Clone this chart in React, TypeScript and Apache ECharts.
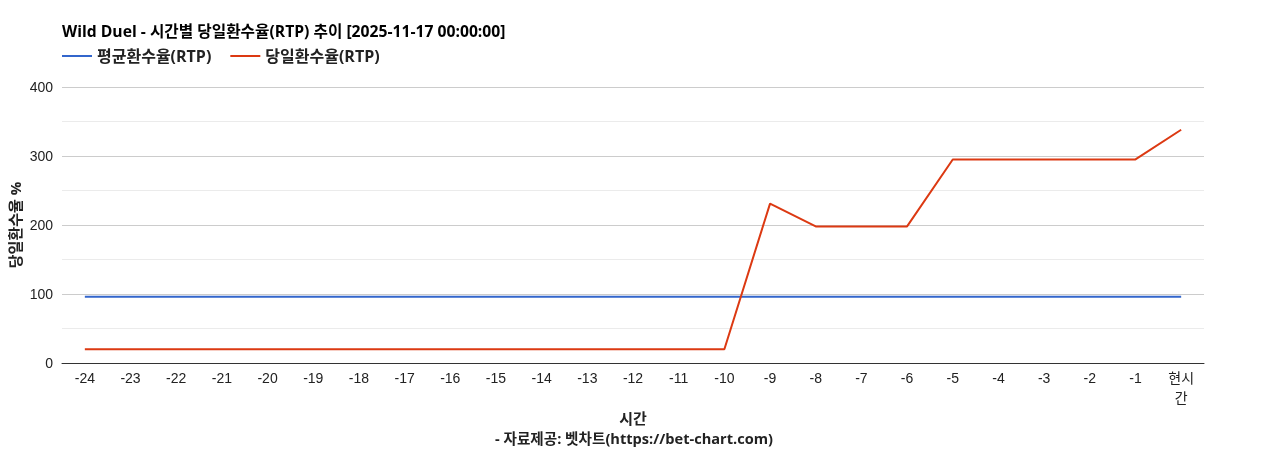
import React, {useRef, useEffect} from 'react';
import * as echarts from 'echarts';

const hours = [
    '-24', '-23', '-22', '-21', '-20', '-19', '-18', '-17', '-16', '-15', '-14', '-13',
    '-12', '-11', '-10', '-9', '-8', '-7', '-6', '-5', '-4', '-3', '-2', '-1', '현시간'
];
const avgRtp = [
    96, 96, 96, 96, 96, 96, 96, 96, 96, 96, 96, 96,
    96, 96, 96, 96, 96, 96, 96, 96, 96, 96, 96, 96, 96
];
const dailyRtp = [
    20, 20, 20, 20, 20, 20, 20, 20, 20, 20, 20, 20,
    20, 20, 20, 231, 198, 198, 198, 295, 295, 295, 295, 295, 338
];
const yTicks = {min: 0, max: 400, interval: 100};

const FONT = 'Arial, "Liberation Sans", "Noto Sans CJK KR", sans-serif';
const BOLD_FONT = '"Open Sans", "Noto Sans CJK KR", sans-serif';

const App = () => {
    const ref = useRef<HTMLDivElement>(null);

    useEffect(() => {
        const chart = echarts.init(ref.current as HTMLDivElement, null, {renderer: 'svg'});
        chart.setOption({
            animation: false,
            textStyle: {fontFamily: FONT},
            title: {
                text: 'Wild Duel - 시간별 당일환수율(RTP) 추이 [2025-11-17 00:00:00]',
                left: 57,
                top: 18,
                textStyle: {fontSize: 15.7, fontWeight: 'bold', color: '#000', fontFamily: BOLD_FONT}
            },
            legend: {
                left: 57,
                top: 43,
                icon: 'rect',
                itemWidth: 30,
                itemHeight: 2,
                itemGap: 19,
                textStyle: {fontSize: 16, fontWeight: 'bold', color: '#222', fontFamily: BOLD_FONT},
                data: ['평균환수율(RTP)', '당일환수율(RTP)']
            },
            grid: {left: 62, right: 64, top: 87, bottom: 87, outerBoundsMode: 'none', containLabel: false},
            xAxis: {
                type: 'category',
                data: hours,
                boundaryGap: true,
                name: '시간',
                nameLocation: 'middle',
                nameGap: 47,
                nameMoveOverlap: false,
                nameTextStyle: {fontSize: 15, fontWeight: 'bold', color: '#222', fontFamily: BOLD_FONT},
                axisLine: {lineStyle: {color: '#333'}},
                axisTick: {show: false},
                axisLabel: {
                    fontSize: 14,
                    color: '#222',
                    margin: 5,
                    interval: 0,
                    lineHeight: 20,
                    formatter: (v: string) => (v === '현시간' ? '현시\n간' : v)
                },
                splitLine: {show: false}
            },
            yAxis: {
                type: 'value',
                ...yTicks,
                name: '당일환수율 %',
                nameLocation: 'middle',
                nameGap: 40,
                nameRotate: 90,
                nameMoveOverlap: false,
                nameTextStyle: {fontSize: 15, fontWeight: 'bold', color: '#222', fontFamily: BOLD_FONT},
                axisLine: {show: false},
                axisTick: {show: false},
                axisLabel: {fontSize: 14, color: '#222', margin: 9},
                splitLine: {lineStyle: {color: '#cccccc'}},
                minorTick: {show: false, splitNumber: 2},
                minorSplitLine: {show: true, lineStyle: {color: '#ebebeb'}}
            },
            graphic: [
                {
                    type: 'text',
                    left: 'center',
                    top: 431,
                    style: {
                        text: '- 자료제공: 벳차트(https://bet-chart.com)',
                        fontSize: 14.6,
                        fontWeight: 'bold',
                        fill: '#222',
                        fontFamily: BOLD_FONT
                    }
                }
            ],
            series: [
                {
                    name: '평균환수율(RTP)',
                    type: 'line',
                    data: avgRtp,
                    symbol: 'none',
                    lineStyle: {width: 2, color: '#3366cc'},
                    itemStyle: {color: '#3366cc'}
                },
                {
                    name: '당일환수율(RTP)',
                    type: 'line',
                    data: dailyRtp,
                    symbol: 'none',
                    lineStyle: {width: 2, color: '#dc3912'},
                    itemStyle: {color: '#dc3912'}
                }
            ]
        });
        return () => chart.dispose();
    }, []);

    return <div ref={ref} style={{position: 'fixed', left: 0, top: 0, width: 1268, height: 450}}></div>;
};

export default App;
